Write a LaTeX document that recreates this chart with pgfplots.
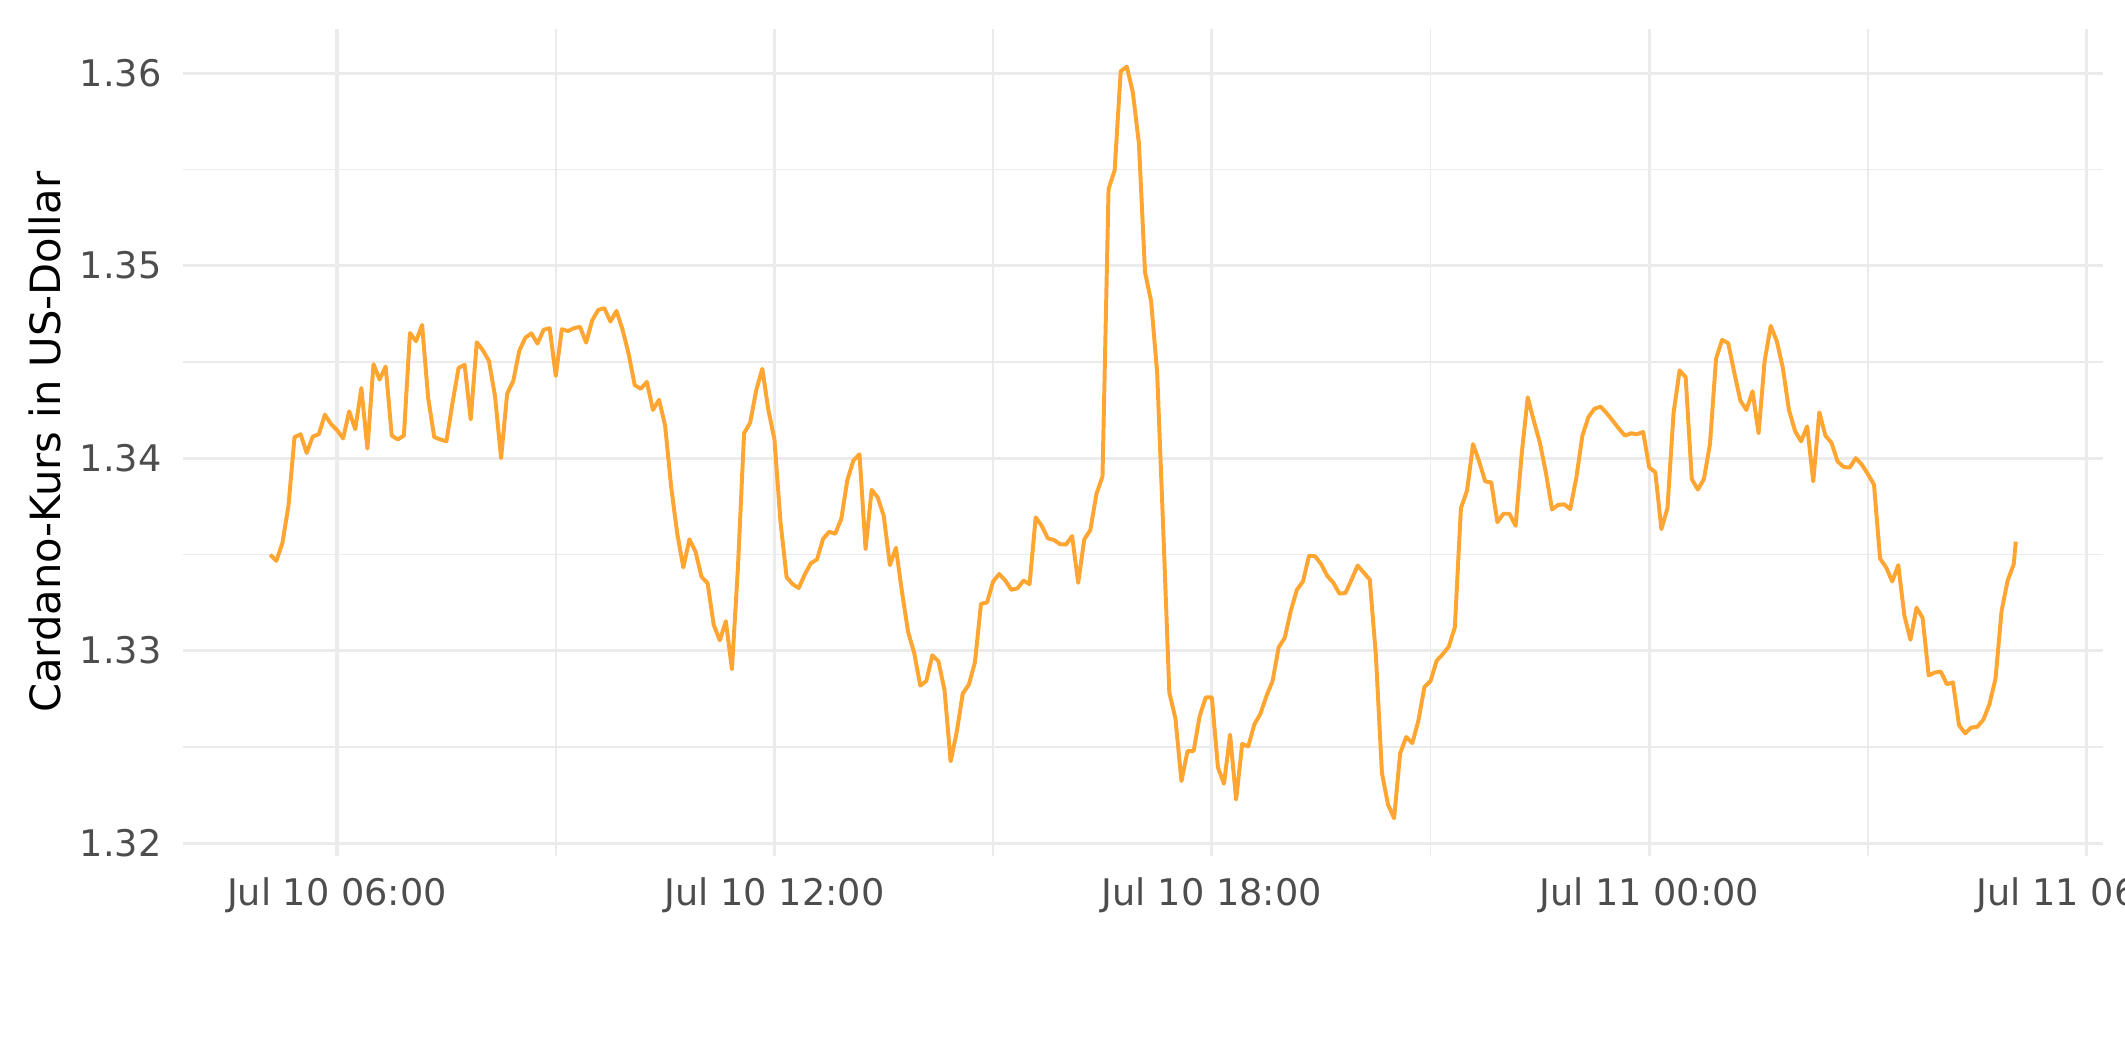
\documentclass[border=0pt]{standalone}
\usepackage{pgfplots}
\pgfplotsset{compat=1.18}
\usepackage{pgfplotstable}
\usepackage{fontspec}
\setmainfont{DejaVu Sans}

\definecolor{adaline}{RGB}{255,165,50}
\definecolor{grid92}{RGB}{235,235,235}
\definecolor{grey30}{RGB}{77,77,77}

% minutes since Jul 10 00:00, price in USD
\pgfplotstableread{
t price
305 1.33498
310 1.33466
315 1.33558
320 1.33752
325 1.34109
330 1.34124
335 1.34027
340 1.34112
345 1.34124
350 1.34226
355 1.34177
360 1.34146
365 1.34102
370 1.34243
375 1.34150
380 1.34364
385 1.34049
390 1.34488
395 1.34408
400 1.34476
405 1.34117
410 1.34097
415 1.34117
420 1.34650
425 1.34607
430 1.34692
435 1.34311
440 1.34109
445 1.34097
450 1.34087
455 1.34286
460 1.34468
465 1.34485
470 1.34201
475 1.34602
480 1.34560
485 1.34505
490 1.34323
495 1.34000
500 1.34335
505 1.34400
510 1.34558
515 1.34626
520 1.34648
525 1.34595
530 1.34667
535 1.34675
540 1.34427
545 1.34670
550 1.34660
555 1.34675
560 1.34682
565 1.34600
570 1.34716
575 1.34770
580 1.34779
585 1.34709
590 1.34765
595 1.34667
600 1.34541
605 1.34379
610 1.34360
615 1.34396
620 1.34250
625 1.34303
630 1.34170
635 1.33850
640 1.33607
645 1.33432
650 1.33578
655 1.33515
660 1.33383
665 1.33350
670 1.33134
675 1.33053
680 1.33153
685 1.32903
690 1.33437
695 1.34129
700 1.34184
705 1.34352
710 1.34464
715 1.34250
720 1.34097
725 1.33667
730 1.33381
735 1.33345
740 1.33325
745 1.33396
750 1.33454
755 1.33473
760 1.33580
765 1.33617
770 1.33607
775 1.33684
780 1.33886
785 1.33988
790 1.34020
795 1.33527
800 1.33835
805 1.33796
810 1.33699
815 1.33444
820 1.33534
825 1.33303
830 1.33097
835 1.32988
840 1.32818
845 1.32842
850 1.32976
855 1.32944
860 1.32794
865 1.32425
870 1.32575
875 1.32777
880 1.32823
885 1.32939
890 1.33243
895 1.33250
900 1.33359
905 1.33398
910 1.33364
915 1.33316
920 1.33323
925 1.33364
930 1.33345
935 1.33692
940 1.33648
945 1.33583
950 1.33575
955 1.33553
960 1.33551
965 1.33595
970 1.33352
975 1.33578
980 1.33626
985 1.33813
990 1.33905
995 1.35398
1000 1.35495
1005 1.36010
1010 1.36034
1015 1.35900
1020 1.35633
1025 1.34966
1030 1.34816
1035 1.34444
1040 1.33631
1045 1.32782
1050 1.32648
1055 1.32322
1060 1.32478
1065 1.32478
1070 1.32660
1075 1.32757
1080 1.32757
1085 1.32393
1090 1.32308
1095 1.32563
1100 1.32226
1105 1.32515
1110 1.32502
1115 1.32617
1120 1.32672
1125 1.32765
1130 1.32842
1135 1.33017
1140 1.33066
1145 1.33207
1150 1.33316
1155 1.33359
1160 1.33493
1165 1.33490
1170 1.33449
1175 1.33388
1180 1.33352
1185 1.33296
1190 1.33299
1195 1.33369
1200 1.33442
1205 1.33405
1210 1.33369
1215 1.32976
1220 1.32364
1225 1.32200
1230 1.32129
1235 1.32466
1240 1.32551
1245 1.32519
1250 1.32636
1255 1.32811
1260 1.32842
1265 1.32947
1270 1.32981
1275 1.33020
1280 1.33121
1285 1.33740
1290 1.33830
1295 1.34073
1300 1.33983
1305 1.33879
1310 1.33874
1315 1.33667
1320 1.33711
1325 1.33711
1330 1.33648
1335 1.34020
1340 1.34316
1345 1.34194
1350 1.34080
1355 1.33922
1360 1.33733
1365 1.33757
1370 1.33760
1375 1.33735
1380 1.33898
1385 1.34117
1390 1.34214
1395 1.34257
1400 1.34267
1405 1.34233
1410 1.34194
1415 1.34153
1420 1.34117
1425 1.34129
1430 1.34124
1435 1.34136
1440 1.33951
1445 1.33927
1450 1.33631
1455 1.33740
1460 1.34233
1465 1.34456
1470 1.34420
1475 1.33891
1480 1.33837
1485 1.33891
1490 1.34073
1495 1.34517
1500 1.34614
1505 1.34597
1510 1.34444
1515 1.34299
1520 1.34250
1525 1.34347
1530 1.34129
1535 1.34505
1540 1.34687
1545 1.34607
1550 1.34468
1555 1.34250
1560 1.34141
1565 1.34087
1570 1.34165
1575 1.33879
1580 1.34238
1585 1.34117
1590 1.34080
1595 1.33983
1600 1.33954
1605 1.33951
1610 1.34000
1615 1.33966
1620 1.33917
1625 1.33862
1630 1.33478
1635 1.33432
1640 1.33359
1645 1.33444
1650 1.33182
1655 1.33056
1660 1.33223
1665 1.33170
1670 1.32871
1675 1.32886
1680 1.32891
1685 1.32825
1690 1.32835
1695 1.32612
1700 1.32570
1705 1.32600
1710 1.32604
1715 1.32641
1720 1.32721
1725 1.32854
1730 1.33206
1735 1.33364
1740 1.33449
1741.7 1.33566
}\adadata

\begin{document}
\begin{tikzpicture}
  % page = 2125 x 1062 px at 0.24pt/px
  \useasboundingbox (-43.92pt,-49.5pt) rectangle (466.08pt,205.38pt);
  \begin{axis}[
      at={(0,0)}, anchor=south west,
      scale only axis,
      width=460.8pt, height=198.4pt,
      xmin=233.2, xmax=1813.5,
      ymin=1.31934, ymax=1.36229,
      xtick={360,720,1080,1440,1800},
      xticklabels={Jul 10 06:00,Jul 10 12:00,Jul 10 18:00,Jul 11 00:00,Jul 11 06:00},
      minor xtick={540,900,1260,1620},
      ytick={1.32,1.33,1.34,1.35,1.36},
      yticklabels={1.32,1.33,1.34,1.35,1.36},
      minor ytick={1.325,1.335,1.345,1.355},
      grid=both,
      major grid style={draw=grid92, line width=0.75pt},
      minor grid style={draw=grid92, line width=0.4pt},
      axis line style={draw=none},
      tick style={draw=none},
      major tick length=0pt, minor tick length=0pt,
      xticklabel style={font=\fontsize{8.8}{10}\selectfont, text=grey30,
        inner sep=0pt, anchor=north, yshift=-4.95pt},
      yticklabel style={font=\fontsize{8.8}{10}\selectfont, text=grey30,
        inner sep=0pt, anchor=east, xshift=-4.95pt},
      clip=false,
    ]
    \addplot[adaline, line width=0.95pt, line join=round] table[x=t, y=price] {\adadata};
  \end{axis}
  \node[rotate=90, anchor=base, inner sep=0pt, font=\fontsize{10}{12}\selectfont]
    at (-29.3pt,99.2pt) {Cardano-Kurs in US-Dollar};
\end{tikzpicture}
\end{document}
